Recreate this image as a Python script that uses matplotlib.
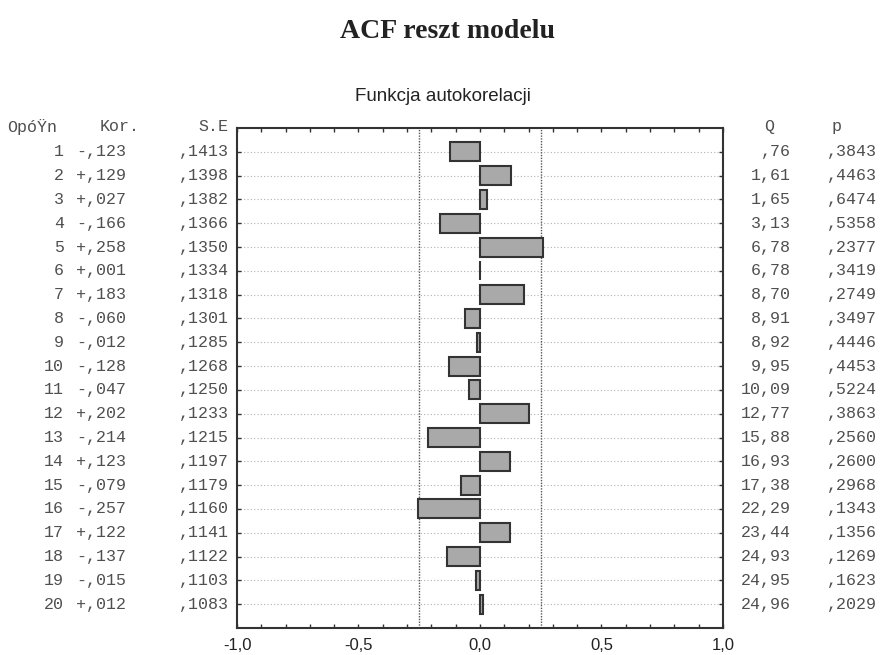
import matplotlib.pyplot as plt
from matplotlib.transforms import blended_transform_factory

# ACF values
lags = list(range(1, 21))
kor = [-0.123, 0.129, 0.027, -0.166, 0.258, 0.001, 0.183, -0.060, -0.012, -0.128,
       -0.047, 0.202, -0.214, 0.123, -0.079, -0.257, 0.122, -0.137, -0.015, 0.012]
kor_txt = ["-,123", "+,129", "+,027", "-,166", "+,258", "+,001", "+,183", "-,060", "-,012", "-,128",
           "-,047", "+,202", "-,214", "+,123", "-,079", "-,257", "+,122", "-,137", "-,015", "+,012"]
se_txt = [",1413", ",1398", ",1382", ",1366", ",1350", ",1334", ",1318", ",1301", ",1285", ",1268",
          ",1250", ",1233", ",1215", ",1197", ",1179", ",1160", ",1141", ",1122", ",1103", ",1083"]
q_txt = [",76", "1,61", "1,65", "3,13", "6,78", "6,78", "8,70", "8,91", "8,92", "9,95",
         "10,09", "12,77", "15,88", "16,93", "17,38", "22,29", "23,44", "24,93", "24,95", "24,96"]
p_txt = [",3843", ",4463", ",6474", ",5358", ",2377", ",3419", ",2749", ",3497", ",4446", ",4453",
         ",5224", ",3863", ",2560", ",2600", ",2968", ",1343", ",1356", ",1269", ",1623", ",2029"]
conf_limit = 0.25
xtick_vals = [-1.0, -0.5, 0.0, 0.5, 1.0]
xtick_labels = ["-1,0", "-0,5", "0,0", "0,5", "1,0"]

mono = "Liberation Mono"
txt_col = "#4f4f4f"

fig = plt.figure(figsize=(8.86, 6.55), dpi=100)
ax = fig.add_axes([0.2675, 0.0412, 0.5485, 0.7634])

# grid lines at each lag
for lag in lags:
    ax.axhline(lag, color="#b0b0b0", linestyle=(0, (1, 2)), linewidth=0.8, zorder=0)

# confidence limits
for c in (-conf_limit, conf_limit):
    ax.axvline(c, color="#555555", linestyle=(0, (1, 1)), linewidth=1.0, zorder=1)

ax.barh(lags, kor, height=0.8, color="#a9a9a9", edgecolor="#333333", linewidth=1.5, zorder=3)

ax.set_xlim(-1.0, 1.0)
ax.set_ylim(21, 0)
ax.set_xticks(xtick_vals)
ax.set_xticklabels(xtick_labels, fontsize=12, color="#222222", family="Liberation Sans")
ax.set_xticks([x / 10 for x in range(-10, 11)], minor=True)
ax.set_yticks(lags)
ax.set_yticklabels([])
ax.tick_params(axis="both", which="both", direction="in", length=3, width=1,
               top=True, right=True, color="#333333")
ax.tick_params(axis="x", which="major", pad=7)
for s in ax.spines.values():
    s.set_linewidth(1.5)
    s.set_color("#333333")

fig.text(0.505, 0.952, "ACF reszt modelu", ha="center", va="center",
         fontsize=20, fontweight="bold", family="Liberation Serif", color="#222222")
fig.text(0.5, 0.852, "Funkcja autokorelacji", ha="center", va="center",
         fontsize=13.5, family=["Liberation Sans Narrow", "Liberation Sans"], color="#222222")

tr = blended_transform_factory(fig.transFigure, ax.transData)
hdr_y = -0.05
ax.text(0.008, hdr_y, "OpóŸn", transform=tr, ha="left", va="center", family=mono, fontsize=12, color=txt_col)
ax.text(0.112, hdr_y, "Kor.", transform=tr, ha="left", va="center", family=mono, fontsize=12, color=txt_col)
ax.text(0.258, hdr_y, "S.E", transform=tr, ha="right", va="center", family=mono, fontsize=12, color=txt_col)
ax.text(0.862, hdr_y, "Q", transform=tr, ha="left", va="center", family=mono, fontsize=12, color=txt_col)
ax.text(0.938, hdr_y, "p", transform=tr, ha="left", va="center", family=mono, fontsize=12, color=txt_col)

for i, lag in enumerate(lags):
    ax.text(0.072, lag, str(lag), transform=tr, ha="right", va="center", family=mono, fontsize=12, color=txt_col)
    ax.text(0.086, lag, kor_txt[i], transform=tr, ha="left", va="center", family=mono, fontsize=12, color=txt_col)
    ax.text(0.258, lag, se_txt[i], transform=tr, ha="right", va="center", family=mono, fontsize=12, color=txt_col)
    ax.text(0.893, lag, q_txt[i], transform=tr, ha="right", va="center", family=mono, fontsize=12, color=txt_col)
    ax.text(0.933, lag, p_txt[i], transform=tr, ha="left", va="center", family=mono, fontsize=12, color=txt_col)

fig.savefig("out.png", dpi=100)
